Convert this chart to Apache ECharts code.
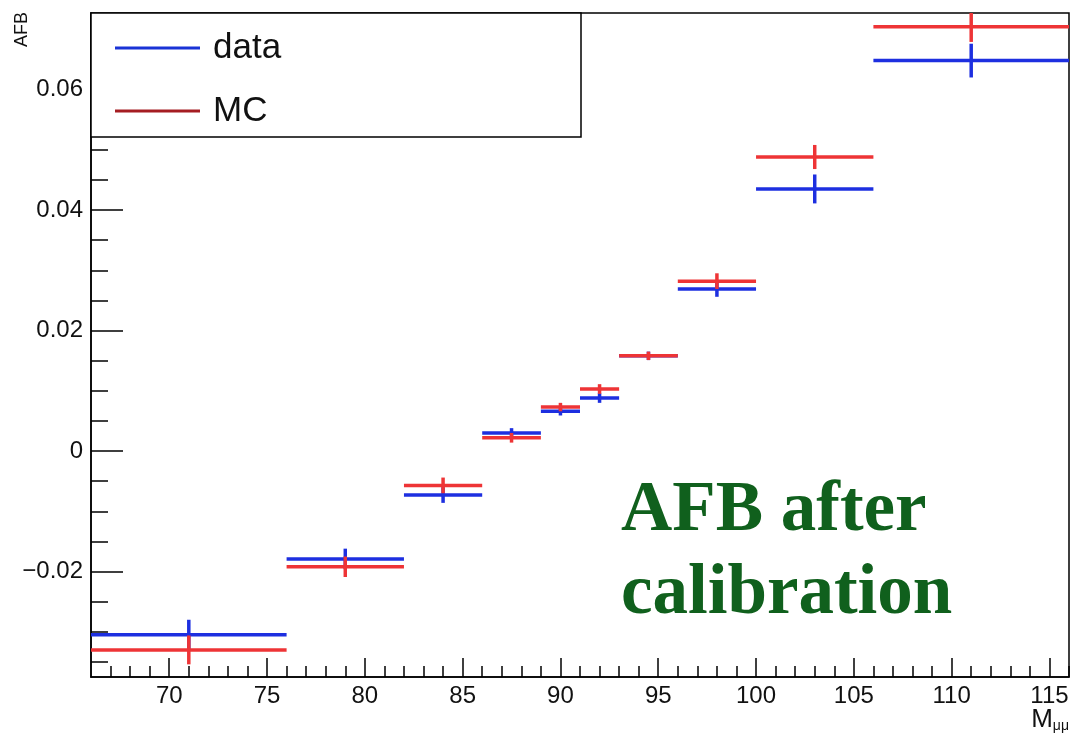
<!DOCTYPE html>
<html lang="en">

<head>
    <meta charset="UTF-8">
    <title>AFB after calibration</title>
    <style>
        *{
            padding:0;
            margin:0;
        }
        body{
            background:#fff;
        }
    </style>
    <script type="text/javascript" src="https://cdn.jsdelivr.net/npm/echarts@6.0.0/dist/echarts.min.js"></script>
</head>

<body>
    <div id="main" style="width:1086px;height:740px;"></div>
    <script type="text/javascript">
    // bin edges and centres in M(mumu)
    var binLow = [66, 76, 82, 86, 89, 91, 93, 96, 100, 106];
    var binHigh = [76, 82, 86, 89, 91, 93, 96, 100, 106, 116];
    var binCenter = [71, 79, 84, 87.5, 90, 92, 94.5, 98, 103, 111];

    // AFB values
    var dataVals = [-0.0305, -0.0179, -0.0073, 0.0030, 0.0066, 0.0088, 0.0158, 0.0269, 0.0435, 0.0648];
    var dataErr = [0.0025, 0.0017, 0.0013, 0.0008, 0.0007, 0.0008, 0.0007, 0.0013, 0.0024, 0.0028];
    var mcVals = [-0.0330, -0.0192, -0.0057, 0.0022, 0.0073, 0.0103, 0.0158, 0.0282, 0.0488, 0.0704];
    var mcErr = [0.0024, 0.0017, 0.0013, 0.0008, 0.0007, 0.0008, 0.0007, 0.0013, 0.0020, 0.0025];

    // axis ticks
    var xMajor = [70, 75, 80, 85, 90, 95, 100, 105, 110, 115];
    var xMinor = [67, 68, 69, 71, 72, 73, 74, 76, 77, 78, 79, 81, 82, 83, 84, 86, 87, 88, 89,
        91, 92, 93, 94, 96, 97, 98, 99, 101, 102, 103, 104, 106, 107, 108, 109, 111, 112, 113, 114, 116];
    var yMajor = [-0.02, 0, 0.02, 0.04, 0.06];
    var yMinor = [-0.035, -0.03, -0.025, -0.015, -0.01, -0.005, 0.005, 0.01, 0.015,
        0.025, 0.03, 0.035, 0.045, 0.05, 0.055, 0.065, 0.07];

    var xMin = 66, xMax = 116;
    var yMin = -0.0375, yMax = 0.0727;

    var blue = '#1d2fe0';
    var red = '#ee3436';

    function toItems(vals, errs) {
        return vals.map(function(v, i) {
            return [binLow[i], binHigh[i], binCenter[i], v, errs[i]];
        });
    }

    function renderBin(params, api) {
        var y = api.value(3), e = api.value(4);
        var a = api.coord([api.value(0), y]);
        var b = api.coord([api.value(1), y]);
        var t = api.coord([api.value(2), y + e]);
        var d = api.coord([api.value(2), y - e]);
        var st = { stroke: api.visual('color'), lineWidth: 3.5 };
        return {
            type: 'group',
            children: [
                { type: 'line', shape: { x1: a[0], y1: a[1], x2: b[0], y2: b[1] }, style: st },
                { type: 'line', shape: { x1: t[0], y1: t[1], x2: d[0], y2: d[1] }, style: st }
            ]
        };
    }

    var font = 'Liberation Sans';
    var myChart = echarts.init(document.getElementById('main'));

    var option = {
        animation: false,
        backgroundColor: '#fff',
        grid: {
            left: 91,
            right: 17,
            top: 13,
            bottom: 63,
            show: true,
            borderColor: '#000',
            borderWidth: 1.5
        },
        legend: {
            orient: 'vertical',
            left: 110,
            top: 24,
            itemWidth: 85,
            itemHeight: 3,
            itemGap: 25,
            icon: 'rect',
            textStyle: {
                fontSize: 35,
                fontFamily: font,
                color: '#111',
                lineHeight: 38,
                padding: [0, 0, 0, 8]
            },
            data: [
                { name: 'data', itemStyle: { color: '#1a33d6' } },
                { name: 'MC', itemStyle: { color: '#a51d22' } }
            ]
        },
        xAxis: [{
            type: 'value',
            min: xMin,
            max: xMax,
            splitLine: { show: false },
            axisLine: { onZero: false, lineStyle: { color: '#000', width: 1.5 } },
            axisTick: { inside: true, length: 19, customValues: xMajor, lineStyle: { color: '#000', width: 1.5 } },
            axisLabel: { customValues: xMajor, margin: 7, fontSize: 24, fontFamily: font, color: '#111' }
        }, {
            type: 'value',
            min: xMin,
            max: xMax,
            position: 'bottom',
            splitLine: { show: false },
            axisLine: { show: false, onZero: false },
            axisTick: { inside: true, length: 11, customValues: xMinor, lineStyle: { color: '#000', width: 1.5 } },
            axisLabel: { show: false }
        }],
        yAxis: [{
            type: 'value',
            min: yMin,
            max: yMax,
            splitLine: { show: false },
            axisLine: { onZero: false, lineStyle: { color: '#000', width: 1.5 } },
            axisTick: { inside: true, length: 32, customValues: yMajor, lineStyle: { color: '#000', width: 1.5 } },
            axisLabel: {
                customValues: yMajor,
                margin: 8,
                fontSize: 24,
                fontFamily: font,
                color: '#111',
                formatter: function(v) {
                    if (Math.abs(v) < 1e-9) return '0';
                    return (v < 0 ? '\u2212' : '') + Math.abs(v).toFixed(2);
                }
            }
        }, {
            type: 'value',
            min: yMin,
            max: yMax,
            position: 'left',
            splitLine: { show: false },
            axisLine: { show: false, onZero: false },
            axisTick: { inside: true, length: 17, customValues: yMinor, lineStyle: { color: '#000', width: 1.5 } },
            axisLabel: { show: false }
        }],
        graphic: [{
            // legend frame
            type: 'rect',
            z: 3,
            shape: { x: 91, y: 13, width: 490, height: 124 },
            style: { fill: '#fff', stroke: '#000', lineWidth: 1.5 }
        }, {
            type: 'text',
            x: 22,
            y: 12,
            rotation: Math.PI / 2,
            style: {
                text: 'AFB',
                font: '18px "Liberation Sans"',
                fill: '#111',
                align: 'right',
                verticalAlign: 'middle'
            }
        }, {
            type: 'text',
            x: 1069,
            y: 707,
            style: {
                text: '{m|M}{s|\u03bc\u03bc}',
                align: 'right',
                verticalAlign: 'top',
                rich: {
                    m: { fontSize: 26, fontFamily: font, fill: '#111', verticalAlign: 'bottom' },
                    s: { fontSize: 14, fontFamily: font, fill: '#111', verticalAlign: 'bottom' }
                }
            }
        }, {
            type: 'text',
            x: 621,
            y: 470,
            style: {
                text: 'AFB after\ncalibration',
                font: 'bold 71px "Liberation Serif"',
                fill: '#10601d',
                lineHeight: 83,
                align: 'left',
                verticalAlign: 'top'
            }
        }],
        series: [{
            name: 'data',
            type: 'custom',
            clip: true,
            itemStyle: { color: blue },
            renderItem: renderBin,
            data: toItems(dataVals, dataErr)
        }, {
            name: 'MC',
            type: 'custom',
            clip: true,
            itemStyle: { color: red },
            renderItem: renderBin,
            data: toItems(mcVals, mcErr)
        }]
    };

    myChart.setOption(option);
    </script>
</body>

</html>
